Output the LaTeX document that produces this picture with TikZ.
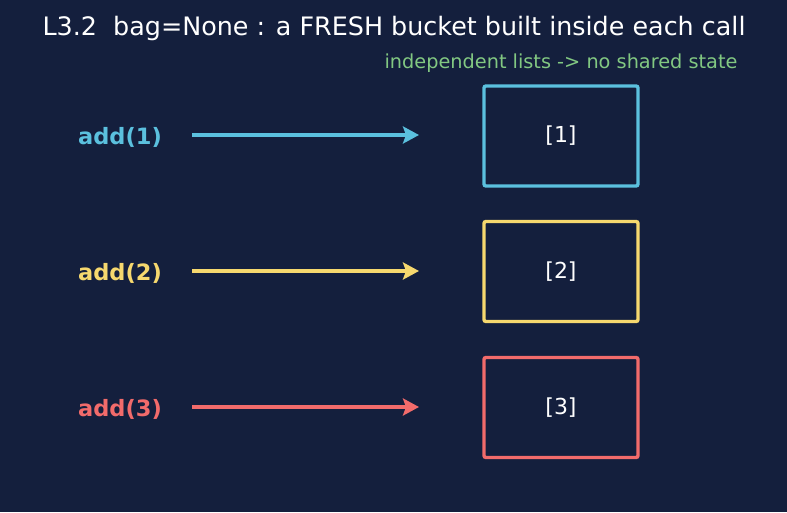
\documentclass[tikz,border=0pt]{standalone}
\usepackage{fontspec}
\setmainfont{DejaVu Sans}
\usetikzlibrary{arrows.meta}
\definecolor{bg}{HTML}{141F3D}
\definecolor{ccyan}{HTML}{5BC0DE}
\definecolor{cyellow}{HTML}{F6D86E}
\definecolor{cred}{HTML}{F26B6B}
\definecolor{cgreen}{HTML}{82C882}
\tikzset{
  lbl/.style={font=\bfseries\fontsize{22.5}{26}\selectfont, anchor=center, inner sep=0pt},
  conn/.style={line width=3.4pt, -{Stealth[length=16pt,width=17pt,inset=3pt]}},
  bucket/.style={draw, line width=3.4pt, rounded corners=2pt, minimum width=154pt, minimum height=100pt, text=white, font=\fontsize{22}{26}\selectfont},
}
\begin{document}
\begin{tikzpicture}[x=1pt,y=-1pt]
\fill[bg] (0,0) rectangle (787,512);
\useasboundingbox (0,0) rectangle (787,512);
\node[text=white, font=\fontsize{25.4}{30}\selectfont, inner sep=0pt] (title) at (394,28) {L3.2\ \ bag=None : a FRESH bucket built inside each call};
\node[text=cgreen, font=\fontsize{19.3}{22}\selectfont, inner sep=0pt] (sub) at (561,63.5) {independent lists -> no shared state};

\node[lbl, text=ccyan] (a1) at (120,137) {add(1)};
\node[lbl, text=cyellow] (a2) at (120,273) {add(2)};
\node[lbl, text=cred] (a3) at (120,409) {add(3)};

\coordinate (e1) at (419,135);
\coordinate (e2) at (419,271);
\coordinate (e3) at (419,407);
\coordinate (s1) at (192,135);
\coordinate (s2) at (192,271);
\coordinate (s3) at (192,407);

\node[bucket, draw=ccyan] (b1) at (561,136) {[1]};
\node[bucket, draw=cyellow] (b2) at (561,271.5) {[2]};
\node[bucket, draw=cred] (b3) at (561,407.5) {[3]};

\draw[conn, ccyan] (s1) -- (e1);
\draw[conn, cyellow] (s2) -- (e2);
\draw[conn, cred] (s3) -- (e3);
\end{tikzpicture}
\end{document}
